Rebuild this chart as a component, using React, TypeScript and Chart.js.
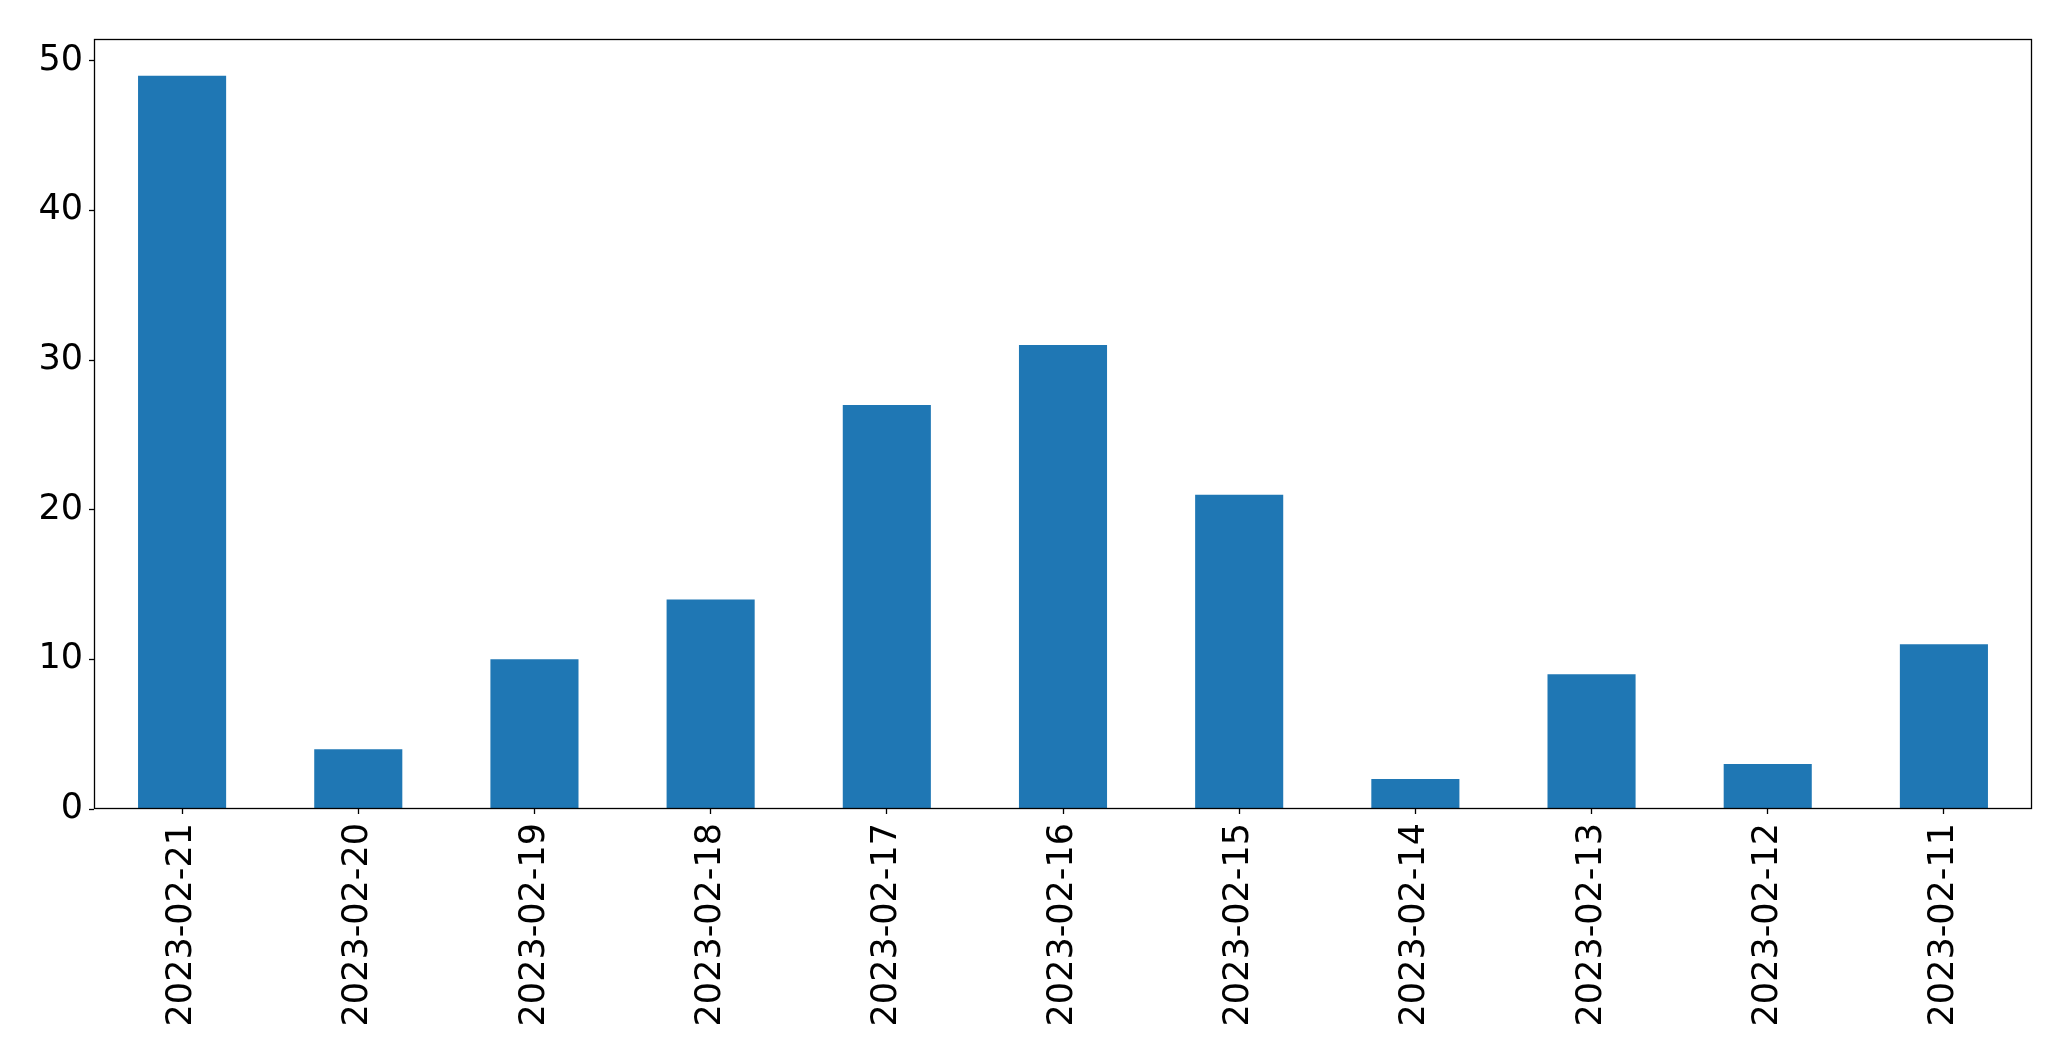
import React, { useEffect, useRef } from "react";
import { Chart, registerables } from "chart.js";

Chart.register(...registerables);

const categories = [
  "2023-02-21",
  "2023-02-20",
  "2023-02-19",
  "2023-02-18",
  "2023-02-17",
  "2023-02-16",
  "2023-02-15",
  "2023-02-14",
  "2023-02-13",
  "2023-02-12",
  "2023-02-11",
];
const values = [49, 4, 10, 14, 27, 31, 21, 2, 9, 3, 11];
const yMin = 0;
const yMax = 51.45;
const yStep = 10;

const W = 2071;
const H = 1061;

const frame = {
  id: "frame",
  afterDraw(chart: any) {
    const { ctx, chartArea } = chart;
    const l = Math.round(chartArea.left) + 0.5;
    const t = Math.round(chartArea.top) + 0.5;
    const r = Math.round(chartArea.right) - 0.5;
    const b = Math.round(chartArea.bottom) - 0.5;
    ctx.save();
    ctx.strokeStyle = "#000";
    ctx.lineWidth = 1.3;
    ctx.strokeRect(l, t, r - l, b - t);
    ctx.restore();
  },
};

export default function App() {
  const ref = useRef<HTMLCanvasElement | null>(null);
  useEffect(() => {
    if (!ref.current) return;
    const font = { family: "'DejaVu Sans', sans-serif", size: 35 };
    const chart = new Chart(ref.current, {
      type: "bar",
      data: {
        labels: categories,
        datasets: [
          {
            data: values,
            backgroundColor: "#1f77b4",
            borderWidth: 0,
            barPercentage: 0.5,
            categoryPercentage: 1,
          },
        ],
      },
      options: {
        animation: false,
        responsive: false,
        devicePixelRatio: 1,
        layout: { padding: { left: 0, right: 39, top: 39, bottom: 0 } },
        plugins: { legend: { display: false }, tooltip: { enabled: false } },
        scales: {
          x: {
            offset: true,
            grid: {
              display: true,
              drawOnChartArea: false,
              drawTicks: true,
              tickLength: 5,
              tickWidth: 1.3,
              tickColor: "#000",
              offset: false,
            },
            border: { display: false },
            ticks: {
              color: "#000",
              font,
              minRotation: 90,
              maxRotation: 90,
              autoSkip: false,
              padding: 9,
            },
            afterFit(scale: any) {
              scale.height = H - 809;
            },
          },
          y: {
            min: yMin,
            max: yMax,
            grid: {
              display: true,
              drawOnChartArea: false,
              drawTicks: true,
              tickLength: 5,
              tickWidth: 1.3,
              tickColor: "#000",
            },
            border: { display: false },
            ticks: {
              color: "#000",
              font,
              stepSize: yStep,
              includeBounds: false,
              padding: 6,
            },
            afterFit(scale: any) {
              scale.width = 94;
            },
          },
        },
      },
      plugins: [frame],
    });
    return () => chart.destroy();
  }, []);
  return (
    <div style={{ position: "absolute", left: 0, top: 0, width: W, height: H, background: "#fff" }}>
      <canvas ref={ref} width={W} height={H} style={{ width: W, height: H, display: "block" }} />
    </div>
  );
}
